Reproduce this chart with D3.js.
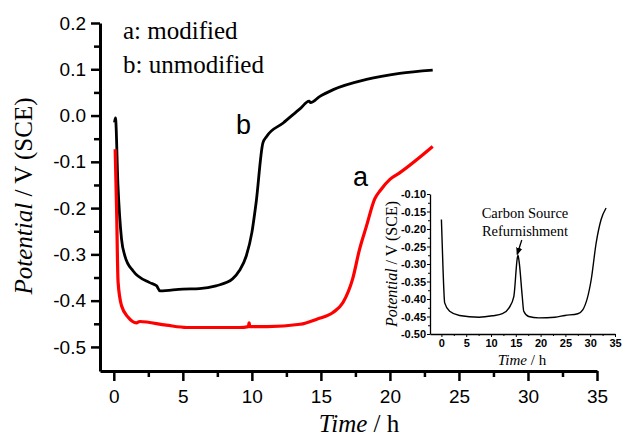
<!DOCTYPE html>
<html lang="en">
<head>
<meta charset="UTF-8">
<title>Potential vs Time</title>
<style>
    body{margin:0;background:#fff;}
    .axis path,.axis line{fill:none;stroke:#000;}
    .main-axis text{font-family:"Liberation Sans",Arial,sans-serif;font-size:19px;fill:#000;}
    .inset-axis text{font-family:"Liberation Sans",Arial,sans-serif;font-size:11px;font-weight:bold;fill:#000;}
    .serif{font-family:"Liberation Serif","Times New Roman",serif;fill:#000;}
</style>
<script src="https://cdn.jsdelivr.net/npm/d3@7/dist/d3.min.js"></script>
</head>
<body>
<script>
// curve b: unmodified (black)
var timeB = [0.05, 0.12, 0.3, 0.56, 0.8, 1.4, 2.6, 3.1, 3.35, 5.0, 6.2, 7.4, 8.6, 9.1, 9.6, 10.0, 10.3, 10.8, 11.07, 12.27, 13.5, 14.15, 14.25, 14.9, 15.9, 18.3, 20.7, 23.1];
var potB  = [-0.015, -0.005, -0.15, -0.267, -0.303, -0.336, -0.361, -0.368, -0.379, -0.375, -0.374, -0.368, -0.353, -0.335, -0.303, -0.253, -0.19, -0.059, -0.045, -0.016, 0.015, 0.031, 0.028, 0.041, 0.056, 0.078, 0.091, 0.098];

// curve a: modified (red)
var timeA = [0.1, 0.2, 0.31, 0.56, 1.04, 1.64, 1.88, 3.8, 5.3, 7.4, 9.1, 9.75, 9.8, 9.85, 11.1, 13.5, 14.7, 15.9, 16.6, 17.3, 17.8, 18.3, 18.9, 19.3, 20.0, 20.7, 23.1];
var potA  = [-0.073, -0.2, -0.36, -0.411, -0.436, -0.448, -0.445, -0.453, -0.458, -0.458, -0.458, -0.456, -0.448, -0.456, -0.456, -0.451, -0.44, -0.425, -0.404, -0.353, -0.289, -0.239, -0.18, -0.162, -0.138, -0.124, -0.067];

// inset: carbon source refurnishment
var timeC = [0, 0.33, 0.66, 1.66, 3.65, 7.6, 10.3, 12.3, 13.6, 14.6, 15.3, 15.45, 15.7, 16.3, 16.6, 17.6, 19.6, 22.9, 24.9, 27.5, 28.5, 30.2, 31.2, 32.2, 33.2];
var potC  = [-0.173, -0.316, -0.411, -0.435, -0.447, -0.452, -0.448, -0.442, -0.426, -0.393, -0.283, -0.275, -0.297, -0.393, -0.435, -0.45, -0.454, -0.452, -0.447, -0.442, -0.431, -0.345, -0.24, -0.173, -0.14];

var mainXTicks = [0, 5, 10, 15, 20, 25, 30, 35];
var mainYTicks = [-0.5, -0.4, -0.3, -0.2, -0.1, 0.0, 0.1, 0.2];
var insetXTicks = [0, 5, 10, 15, 20, 25, 30, 35];
var insetYTicks = [-0.50, -0.45, -0.40, -0.35, -0.30, -0.25, -0.20, -0.15, -0.10];

var width = 622, height = 440;
var svg = d3.select("body").append("svg")
    .attr("width", width)
    .attr("height", height);

function zip(xs, ys){
    return xs.map(function(d, i){ return {t: d, v: ys[i]}; });
}

// ---------- main chart ----------
var x = d3.scaleLinear().domain([-1, 35]).range([100, 597]);
var y = d3.scaleLinear().domain([-0.552, 0.2]).range([371, 23]);

// minor ticks first
svg.append("g")
    .attr("class", "axis")
    .attr("transform", "translate(0," + 371 + ")")
    .call(d3.axisBottom(x).tickValues(d3.range(2.5, 35, 5)).tickSize(6).tickFormat(""))
    .call(function(g){ g.select(".domain").remove(); })
    .selectAll("line").attr("stroke-width", 2.5);

svg.append("g")
    .attr("class", "axis")
    .attr("transform", "translate(100,0)")
    .call(d3.axisLeft(y).tickValues([-0.45, -0.35, -0.25, -0.15, -0.05, 0.05, 0.15]).tickSize(6).tickFormat(""))
    .call(function(g){ g.select(".domain").remove(); })
    .selectAll("line").attr("stroke-width", 2.5);

var gx = svg.append("g")
    .attr("class", "axis main-axis")
    .attr("transform", "translate(0," + 371 + ")")
    .call(d3.axisBottom(x).tickValues(mainXTicks).tickSize(10).tickSizeOuter(0).tickPadding(9).tickFormat(d3.format("d")));
gx.select(".domain").attr("stroke-width", 3);
gx.selectAll(".tick line").attr("stroke-width", 2.5);

var gy = svg.append("g")
    .attr("class", "axis main-axis")
    .attr("transform", "translate(100,0)")
    .call(d3.axisLeft(y).tickValues(mainYTicks).tickSize(9).tickSizeOuter(0).tickPadding(5).tickFormat(d3.format(".1f")));
gy.select(".domain").attr("stroke-width", 3);
gy.selectAll(".tick line").attr("stroke-width", 2.5);
gy.selectAll(".tick text").text(function(d){ return d3.format(".1f")(d).replace("−", "-"); });

var line = d3.line()
    .x(function(d){ return x(d.t); })
    .y(function(d){ return y(d.v); })
    .curve(d3.curveMonotoneX);

svg.append("path")
    .attr("d", line(zip(timeB, potB)))
    .attr("fill", "none")
    .attr("stroke", "#000")
    .attr("stroke-width", 2.8)
    .attr("stroke-linejoin", "round");

svg.append("path")
    .attr("d", line(zip(timeA, potA)))
    .attr("fill", "none")
    .attr("stroke", "#ff0000")
    .attr("stroke-width", 3.2)
    .attr("stroke-linejoin", "round");

// legend text
svg.append("text").attr("class", "serif").attr("x", 123).attr("y", 39)
    .attr("font-size", 25).text("a: modified");
svg.append("text").attr("class", "serif").attr("x", 123).attr("y", 73)
    .attr("font-size", 25).text("b: unmodified");

// curve labels
svg.append("text").attr("x", 236).attr("y", 134)
    .attr("font-family", "Liberation Sans, Arial, sans-serif").attr("font-size", 27).text("b");
svg.append("text").attr("x", 353).attr("y", 186)
    .attr("font-family", "Liberation Sans, Arial, sans-serif").attr("font-size", 27).text("a");

// axis titles
var xt = svg.append("text").attr("class", "serif")
    .attr("x", 359).attr("y", 432).attr("text-anchor", "middle").attr("font-size", 25);
xt.append("tspan").attr("font-style", "italic").text("Time");
xt.append("tspan").text(" / h");

var yt = svg.append("text").attr("class", "serif")
    .attr("transform", "translate(32,196) rotate(-90)")
    .attr("text-anchor", "middle").attr("font-size", 25);
yt.append("tspan").attr("font-style", "italic").text("Potential");
yt.append("tspan").text(" / V (SCE)");

// ---------- inset ----------
var xi = d3.scaleLinear().domain([-2.3, 35]).range([430, 615]);
var yi = d3.scaleLinear().domain([-0.50, -0.10]).range([334, 194]);

svg.append("g")
    .attr("class", "axis")
    .attr("transform", "translate(0,334)")
    .call(d3.axisBottom(xi).tickValues(d3.range(2.5, 35, 5)).tickSize(2).tickFormat(""))
    .call(function(g){ g.select(".domain").remove(); });

svg.append("g")
    .attr("class", "axis")
    .attr("transform", "translate(430,0)")
    .call(d3.axisLeft(yi).tickValues(d3.range(-0.475, -0.1, 0.05)).tickSize(2).tickFormat(""))
    .call(function(g){ g.select(".domain").remove(); });

var gxi = svg.append("g")
    .attr("class", "axis inset-axis")
    .attr("transform", "translate(0,334)")
    .call(d3.axisBottom(xi).tickValues(insetXTicks).tickSize(3).tickSizeOuter(0).tickPadding(2).tickFormat(d3.format("d")));
gxi.select(".domain").attr("stroke-width", 1.3);

var gyi = svg.append("g")
    .attr("class", "axis inset-axis")
    .attr("transform", "translate(430,0)")
    .call(d3.axisLeft(yi).tickValues(insetYTicks).tickSize(3).tickSizeOuter(0).tickPadding(1));
gyi.select(".domain").attr("stroke-width", 1.3);
gyi.selectAll(".tick text").text(function(d){ return d3.format(".2f")(d).replace("−", "-"); });

var linei = d3.line()
    .x(function(d){ return xi(d.t); })
    .y(function(d){ return yi(d.v); })
    .curve(d3.curveMonotoneX);

svg.append("path")
    .attr("d", linei(zip(timeC, potC)))
    .attr("fill", "none")
    .attr("stroke", "#000")
    .attr("stroke-width", 1.4);

svg.append("text").attr("class", "serif").attr("x", 525).attr("y", 218)
    .attr("text-anchor", "middle").attr("font-size", 14.5).text("Carbon Source");
svg.append("text").attr("class", "serif").attr("x", 525).attr("y", 236)
    .attr("text-anchor", "middle").attr("font-size", 14.5).text("Refurnishment");

// arrow
svg.append("defs").append("marker")
    .attr("id", "ah").attr("viewBox", "0 0 10 10")
    .attr("refX", 8).attr("refY", 5)
    .attr("markerWidth", 6).attr("markerHeight", 6)
    .attr("orient", "auto")
    .append("path").attr("d", "M0,1 L10,5 L0,9 Z").attr("fill", "#000");
svg.append("line")
    .attr("x1", xi(16.2)).attr("y1", 240)
    .attr("x2", xi(15.3)).attr("y2", 254)
    .attr("stroke", "#000").attr("stroke-width", 1.3)
    .attr("marker-end", "url(#ah)");

var xti = svg.append("text").attr("class", "serif")
    .attr("x", 522).attr("y", 365).attr("text-anchor", "middle").attr("font-size", 15);
xti.append("tspan").attr("font-style", "italic").text("Time");
xti.append("tspan").text(" / h");

var yti = svg.append("text").attr("class", "serif")
    .attr("transform", "translate(397,264) rotate(-90)")
    .attr("text-anchor", "middle").attr("font-size", 16);
yti.append("tspan").attr("font-style", "italic").text("Potential");
yti.append("tspan").text(" / V (SCE)");
</script>
</body>
</html>
